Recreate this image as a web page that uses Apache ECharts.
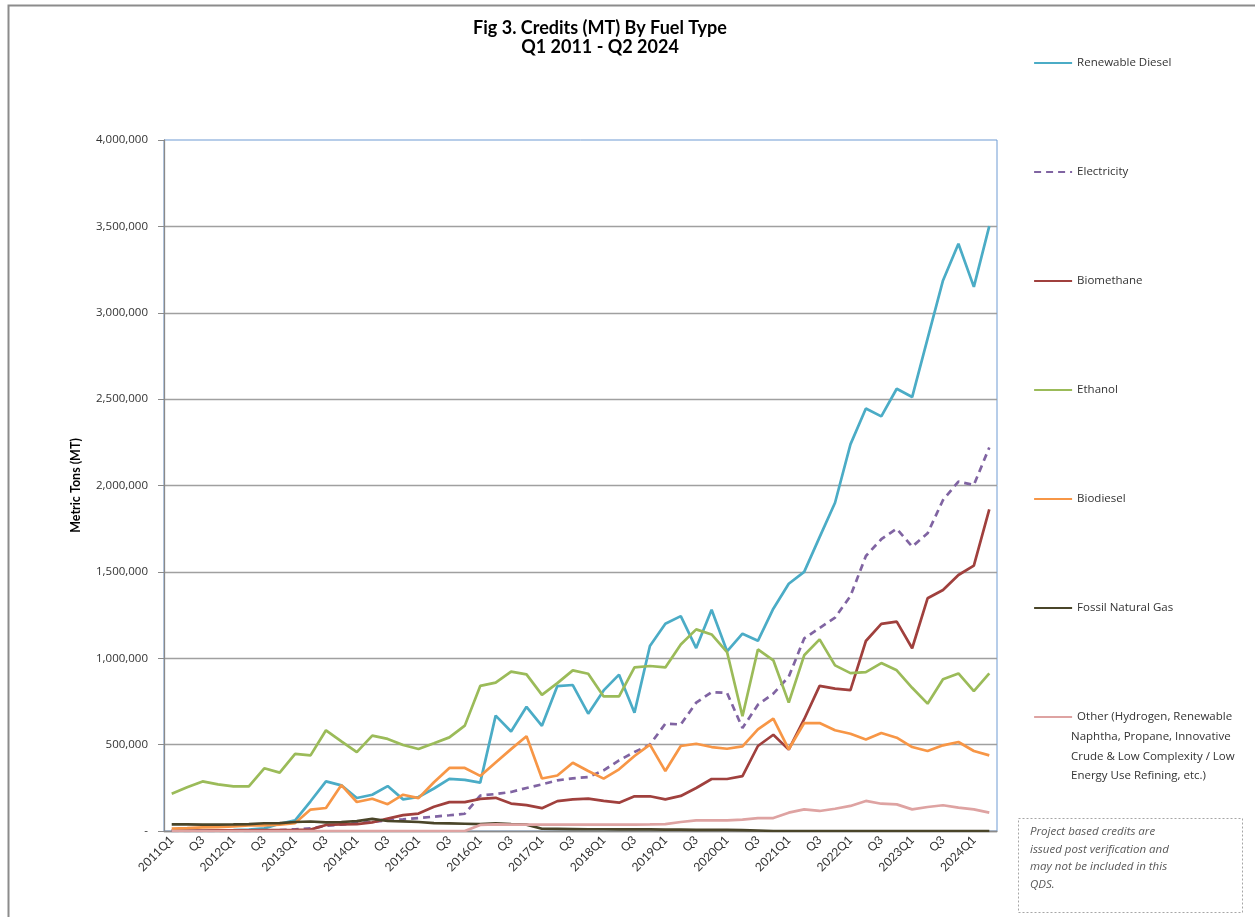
<!DOCTYPE html>
<html>
<head>
<meta charset="utf-8">
<script src="https://cdn.jsdelivr.net/npm/echarts@6/dist/echarts.min.js"></script>
<style>
  html, body { margin: 0; padding: 0; background: #fff; }
  #chart { width: 1255px; height: 917px; }
</style>
</head>
<body>
<div id="chart"></div>
<script>
// quarters 2011Q1 - 2024Q2
var quarters = [
  '2011Q1','2011Q2','2011Q3','2011Q4','2012Q1','2012Q2','2012Q3','2012Q4',
  '2013Q1','2013Q2','2013Q3','2013Q4','2014Q1','2014Q2','2014Q3','2014Q4',
  '2015Q1','2015Q2','2015Q3','2015Q4','2016Q1','2016Q2','2016Q3','2016Q4',
  '2017Q1','2017Q2','2017Q3','2017Q4','2018Q1','2018Q2','2018Q3','2018Q4',
  '2019Q1','2019Q2','2019Q3','2019Q4','2020Q1','2020Q2','2020Q3','2020Q4',
  '2021Q1','2021Q2','2021Q3','2021Q4','2022Q1','2022Q2','2022Q3','2022Q4',
  '2023Q1','2023Q2','2023Q3','2023Q4','2024Q1','2024Q2'
];
var yTicks = [0, 500000, 1000000, 1500000, 2000000, 2500000, 3000000, 3500000, 4000000];

var renewableDiesel = [2000, 3000, 3000, 4000, 5000, 8000, 15000, 42000, 62000, 172000,
  287000, 264000, 191000, 210000, 260000, 183000, 197000, 246000, 302000, 296000,
  280000, 668000, 576000, 719000, 609000, 839000, 845000, 679000, 814000, 905000,
  685000, 1071000, 1200000, 1244000, 1059000, 1281000, 1040000, 1142000, 1101000, 1287000,
  1431000, 1500000, 1701000, 1900000, 2238000, 2446000, 2400000, 2560000, 2512000, 2850000,
  3187000, 3399000, 3150000, 3501000];
var electricity = [0, 0, 0, 0, 0, 0, 2000, 5000, 10000, 15000,
  30000, 37000, 46000, 52000, 62000, 68000, 75000, 83000, 91000, 100000,
  205000, 214000, 226000, 249000, 270000, 293000, 305000, 312000, 351000, 409000,
  457000, 500000, 621000, 617000, 743000, 804000, 799000, 596000, 731000, 795000,
  893000, 1115000, 1175000, 1235000, 1360000, 1592000, 1689000, 1750000, 1646000, 1723000,
  1916000, 2023000, 2003000, 2220000];
var biomethane = [3000, 3000, 3000, 4000, 4000, 4000, 5000, 5000, 6000, 8000,
  35000, 38000, 40000, 50000, 72000, 92000, 101000, 140000, 167000, 167000,
  186000, 192000, 159000, 150000, 132000, 173000, 183000, 187000, 174000, 164000,
  201000, 201000, 183000, 203000, 249000, 301000, 301000, 318000, 492000, 557000,
  471000, 647000, 840000, 824000, 816000, 1100000, 1199000, 1212000, 1058000, 1347000,
  1395000, 1482000, 1536000, 1862000];
var ethanol = [216000, 253000, 287000, 270000, 258000, 258000, 363000, 338000, 446000, 438000,
  583000, 519000, 457000, 552000, 533000, 498000, 475000, 508000, 542000, 610000,
  840000, 859000, 923000, 907000, 788000, 856000, 930000, 910000, 779000, 779000,
  947000, 955000, 947000, 1080000, 1167000, 1138000, 1036000, 664000, 1051000, 988000,
  743000, 1017000, 1109000, 959000, 914000, 920000, 972000, 930000, 829000, 737000,
  878000, 912000, 810000, 912000];
var biodiesel = [14000, 17000, 21000, 23000, 27000, 33000, 33000, 37000, 46000, 124000,
  133000, 266000, 168000, 187000, 155000, 210000, 190000, 282000, 365000, 365000,
  319000, 397000, 474000, 549000, 304000, 321000, 395000, 347000, 303000, 357000,
  434000, 500000, 347000, 492000, 505000, 486000, 476000, 490000, 588000, 650000,
  473000, 625000, 625000, 583000, 563000, 530000, 567000, 540000, 486000, 463000,
  496000, 515000, 463000, 438000];
var fossilGas = [38000, 38000, 37000, 37000, 38000, 40000, 45000, 46000, 52000, 55000,
  50000, 52000, 57000, 70000, 58000, 56000, 52000, 46000, 44000, 42000,
  40000, 45000, 40000, 37000, 13000, 12000, 11000, 10000, 10000, 9000,
  9000, 9000, 8000, 8000, 7000, 7000, 6000, 5000, 3000, 0,
  0, 0, 0, 0, 0, 0, 0, 0, 0, 0,
  0, 0, 0, 0];
var other = [0, 0, 0, 0, 0, 0, 0, 0, 0, 0,
  0, 0, 0, 0, 0, 0, 0, 0, 0, 0,
  35000, 38000, 37000, 37000, 37000, 37000, 37000, 37000, 37000, 37000,
  37000, 38000, 40000, 52000, 62000, 62000, 62000, 66000, 75000, 75000,
  106000, 125000, 116000, 129000, 145000, 174000, 158000, 154000, 125000, 139000,
  149000, 135000, 125000, 106000];

var otherName = 'Other (Hydrogen, Renewable Naphtha, Propane, Innovative Crude & Low Complexity / Low Energy Use Refining, etc.)';
var seriesNames = ['Renewable Diesel', 'Electricity', 'Biomethane', 'Ethanol', 'Biodiesel', 'Fossil Natural Gas', otherName];
var seriesData = [renewableDiesel, electricity, biomethane, ethanol, biodiesel, fossilGas, other];
var seriesColors = ['#4bacc6', '#8064a2', '#a0403d', '#9bbb59', '#f79646', '#4a4529', '#dea3a2'];

var chart = echarts.init(document.getElementById('chart'));

var series = [];
for (let i = 0; i < seriesNames.length; i++) {
  series.push({
    name: seriesNames[i],
    type: 'line',
    data: seriesData[i],
    symbol: 'none',
    smooth: false,
    color: seriesColors[i],
    lineStyle: { width: 2.7, type: i === 1 ? [7, 5] : 'solid' },
    emphasis: { disabled: true }
  });
}

var option = {
  animation: false,
  backgroundColor: '#fff',
  grid: {
    left: 164, right: 258, top: 140, bottom: 86,
    show: true, borderColor: '#6f9bd3', borderWidth: 1
  },
  legend: {
    orient: 'vertical',
    left: 1028, top: 51,
    itemWidth: 38, itemHeight: 14, itemGap: 95,
    data: seriesNames,
    itemStyle: { opacity: 0 },
    lineStyle: { width: 2.2 },
    textStyle: { fontFamily: 'Open Sans', fontSize: 11.5, color: '#333', lineHeight: 14 },
    formatter: function (name) {
      return name === otherName ? 'Other (Hydrogen, Renewable' : name;
    }
  },
  xAxis: {
    type: 'category',
    data: quarters,
    boundaryGap: true,
    axisLine: { lineStyle: { color: '#8a8a8a', width: 1.3 } },
    axisTick: { interval: 0, length: 5, lineStyle: { color: '#8a8a8a' } },
    axisLabel: {
      interval: 1, rotate: 45, margin: 7,
      fontFamily: 'Lato', fontSize: 12, color: '#333',
      formatter: function (v) { return v.slice(4) === 'Q1' ? v : v.slice(4); }
    },
    splitLine: { show: false }
  },
  yAxis: {
    type: 'value',
    min: yTicks[0], max: yTicks[yTicks.length - 1], interval: yTicks[1] - yTicks[0],
    name: 'Metric Tons (MT)',
    nameLocation: 'middle', nameRotate: 90, nameGap: 82,
    nameTextStyle: { fontFamily: 'Lato', fontWeight: 'bold', fontSize: 12.5, color: '#000' },
    axisLine: { show: true, lineStyle: { color: '#8a8a8a', width: 1.3 } },
    axisTick: { show: true, length: 6, lineStyle: { color: '#8a8a8a' } },
    axisLabel: {
      margin: 16, fontFamily: 'Open Sans', fontSize: 11.5, color: '#333',
      formatter: function (v) { return v === 0 ? '-' : v.toLocaleString('en-US'); }
    },
    splitLine: { show: true, showMaxLine: false, lineStyle: { color: '#a0a0a0', width: 1.3 } }
  },
  graphic: [
    { type: 'rect', silent: true, z: -1,
      shape: { x: 8.5, y: 5.5, width: 1300, height: 1000 },
      style: { fill: null, stroke: '#8c8c8c', lineWidth: 2 } },
    { type: 'text', x: 600, y: 18,
      style: { text: 'Fig 3. Credits (MT) By Fuel Type\nQ1 2011 - Q2 2024', textAlign: 'center',
        fontFamily: 'Lato', fontWeight: 'bold', fontSize: 18, lineHeight: 19.5, fill: '#000' } },
    { type: 'text', x: 1071, y: 727,
      style: { text: 'Naphtha, Propane, Innovative\nCrude & Low Complexity / Low\nEnergy Use Refining, etc.)',
        fontFamily: 'Open Sans', fontSize: 11.5, lineHeight: 19.5, fill: '#333' } },
    { type: 'rect', silent: true,
      shape: { x: 1018.5, y: 818.5, width: 224, height: 94 },
      style: { fill: null, stroke: '#a6a6a6', lineWidth: 1, lineDash: [2, 2] } },
    { type: 'text', x: 1030, y: 823,
      style: { text: 'Project based credits are\nissued post verification and\nmay not be included in this\nQDS.',
        fontFamily: 'Open Sans', fontStyle: 'italic', fontSize: 11.5, lineHeight: 17.5, fill: '#595959' } }
  ],
  series: series
};

chart.setOption(option);
</script>
</body>
</html>
